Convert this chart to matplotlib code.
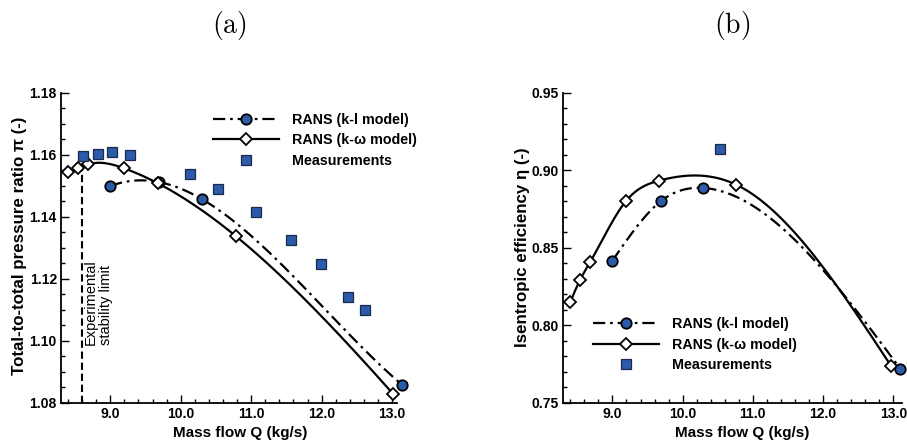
import numpy as np
import matplotlib
matplotlib.use("Agg")
import matplotlib.pyplot as plt
from matplotlib.ticker import MultipleLocator, FormatStrFormatter

plt.rcParams["font.family"] = ["Liberation Sans", "DejaVu Sans"]
plt.rcParams["font.weight"] = "bold"

# ---- (a) total-to-total pressure ratio ----
q_kl_a = [9.0, 9.69, 10.30, 13.14]
pr_kl = [1.1499, 1.1512, 1.1457, 1.0859]

q_kw_a = [8.405, 8.538, 8.681, 9.20, 9.676, 10.786, 13.02]
pr_kw = [1.1546, 1.1556, 1.1569, 1.1556, 1.1508, 1.1337, 1.0828]

q_meas_a = [8.615, 8.824, 9.02, 9.28, 10.133, 10.535, 11.062, 11.562, 11.99, 12.381, 12.619]
pr_meas = [1.1597, 1.1603, 1.1608, 1.1600, 1.1538, 1.1490, 1.1415, 1.1325, 1.1248, 1.1143, 1.1099]

q_stability = 8.6

# ---- (b) isentropic efficiency ----
q_kl_b = [9.0, 9.687, 10.294, 13.10]
eta_kl = [0.8418, 0.8800, 0.8886, 0.7721]

q_kw_b = [8.398, 8.54, 8.682, 9.19, 9.663, 10.758, 12.97]
eta_kw = [0.8150, 0.8294, 0.8408, 0.8800, 0.8933, 0.8908, 0.7738]

q_meas_b = [10.526]
eta_meas = [0.9137]

x_ticks = [9.0, 10.0, 11.0, 12.0, 13.0]
labels = ["RANS (k-l model)", "RANS (k-\u03c9 model)", "Measurements"]


def spline(x, y, ends="natural", n=300):
    """Cubic spline through the points ('natural' or 'not-a-knot' ends)."""
    x = np.asarray(x, float)
    y = np.asarray(y, float)
    m = len(x)
    h = np.diff(x)
    A = np.zeros((m, m))
    r = np.zeros(m)
    if ends == "natural":
        A[0, 0] = A[-1, -1] = 1.0
    else:
        A[0, 0], A[0, 1], A[0, 2] = -h[1], h[0] + h[1], -h[0]
        A[-1, -3], A[-1, -2], A[-1, -1] = -h[-1], h[-1] + h[-2], -h[-2]
    for i in range(1, m - 1):
        A[i, i - 1] = h[i - 1]
        A[i, i] = 2 * (h[i - 1] + h[i])
        A[i, i + 1] = h[i]
        r[i] = 3 * ((y[i + 1] - y[i]) / h[i] - (y[i] - y[i - 1]) / h[i - 1])
    c = np.linalg.solve(A, r)
    b = (y[1:] - y[:-1]) / h - h * (2 * c[:-1] + c[1:]) / 3
    d = (c[1:] - c[:-1]) / (3 * h)
    xs = np.linspace(x[0], x[-1], n)
    idx = np.clip(np.searchsorted(x, xs, side="right") - 1, 0, m - 2)
    t = xs - x[idx]
    ys = y[idx] + b[idx] * t + c[idx] * t ** 2 + d[idx] * t ** 3
    return xs, ys


BLUE = "#2C5BAA"
DASHDOT = (0, (5.5, 2.2, 1.2, 2.2))
LW = 1.6


def draw(ax, qkl, ykl, qkw, ykw, qm, ym, kl_on_top, ends):
    zk = 4 if kl_on_top else 3
    zw = 3 if kl_on_top else 4
    xs, ys = spline(qkl, ykl, ends)
    ax.plot(xs, ys, color="black", lw=LW, ls=DASHDOT, zorder=zk, clip_on=False)
    ax.plot(qkl, ykl, ls="none", marker="o", ms=7.5, mfc=BLUE, mec="black",
            mew=1.3, zorder=zk, clip_on=False)
    xs, ys = spline(qkw, ykw, ends)
    ax.plot(xs, ys, color="black", lw=LW, ls="-", zorder=zw, clip_on=False)
    ax.plot(qkw, ykw, ls="none", marker="D", ms=6.5, mfc="white", mec="black",
            mew=1.3, zorder=zw, clip_on=False)
    ax.plot(qm, ym, ls="none", marker="s", ms=7, mfc=BLUE, mec="#1a2a4a",
            mew=0.9, zorder=5, clip_on=False)

    h_kl = plt.Line2D([], [], color="black", lw=LW, ls=DASHDOT, marker="o",
                      ms=7.5, mfc=BLUE, mec="black", mew=1.3)
    h_kw = plt.Line2D([], [], color="black", lw=LW, ls="-", marker="D",
                      ms=6.5, mfc="white", mec="black", mew=1.3)
    h_m = plt.Line2D([], [], ls="none", marker="s", ms=7, mfc=BLUE,
                     mec="#1a2a4a", mew=0.9)
    return [h_kl, h_kw, h_m]


def style(ax, xlim, ylim, ymajor, yminor, yfmt):
    ax.set_xlim(*xlim)
    ax.set_ylim(*ylim)
    for s in ("top", "right"):
        ax.spines[s].set_visible(False)
    for s in ("left", "bottom"):
        ax.spines[s].set_linewidth(1.3)
    ax.set_xticks(x_ticks)
    ax.xaxis.set_major_formatter(FormatStrFormatter("%.1f"))
    ax.xaxis.set_minor_locator(MultipleLocator(0.2))
    ax.yaxis.set_major_locator(MultipleLocator(ymajor))
    ax.yaxis.set_minor_locator(MultipleLocator(yminor))
    ax.yaxis.set_major_formatter(FormatStrFormatter(yfmt))
    ax.tick_params(which="both", direction="in", width=1.0, labelsize=10)
    ax.tick_params(which="major", length=5.5)
    ax.tick_params(which="minor", length=3)
    ax.tick_params(axis="x", pad=3)
    ax.tick_params(axis="y", pad=3)
    for lab in ax.get_xticklabels() + ax.get_yticklabels():
        lab.set_fontweight("bold")


fig = plt.figure(figsize=(9.07, 4.41), dpi=100)
W, H = 907.0, 441.0
ax1 = fig.add_axes([61 / W, 38 / H, 336 / W, 310.3 / H])
ax2 = fig.add_axes([563.3 / W, 38 / H, 338.4 / W, 310.3 / H])

LEG = dict(loc="upper left", frameon=False, handlelength=4.6,
           handletextpad=0.9, labelspacing=0.45, borderpad=0, borderaxespad=0,
           prop={"weight": "bold", "size": 10.3})

# panel (a)
handles = draw(ax1, q_kl_a, pr_kl, q_kw_a, pr_kw, q_meas_a, pr_meas,
               kl_on_top=False, ends="not-a-knot")
style(ax1, (8.3, 13.07), (1.08, 1.18), 0.02, 0.005, "%.2f")
ax1.plot([q_stability, q_stability], [1.08, 1.1572], color="black", lw=1.5,
         ls=(0, (3.5, 1.8)), zorder=2)
ax1.text(8.617, 1.0986, "Experimental\nstability limit", rotation=90,
         ha="left", va="bottom", multialignment="left", fontsize=10.5,
         fontweight="normal", linespacing=1.15)
ax1.set_xlabel("Mass flow Q (kg/s)", fontsize=11, fontweight="bold")
ax1.set_ylabel("Total-to-total pressure ratio \u03c0 (-)", fontsize=12.2,
               fontweight="bold")
ax1.xaxis.set_label_coords((240 - 61) / 336, -0.075)
ax1.yaxis.set_label_coords(-0.101, 0.508)
ax1.legend(handles, labels, bbox_to_anchor=(0.452, 0.935), **LEG)
ax1.text(0.5, 1.218, r"$\mathrm{(a)}$", transform=ax1.transAxes,
         ha="center", va="center", fontsize=20, math_fontfamily="cm")

# panel (b)
handles = draw(ax2, q_kl_b, eta_kl, q_kw_b, eta_kw, q_meas_b, eta_meas,
               kl_on_top=True, ends="natural")
style(ax2, (8.3, 13.12), (0.75, 0.95), 0.05, 0.01, "%.2f")
ax2.set_xlabel("Mass flow Q (kg/s)", fontsize=11, fontweight="bold")
ax2.set_ylabel("Isentropic efficiency \u03b7 (-)", fontsize=12.2,
               fontweight="bold")
ax2.xaxis.set_label_coords((741.7 - 563.3) / 338.4, -0.075)
ax2.yaxis.set_label_coords(-0.098, 0.503)
ax2.legend(handles, labels, bbox_to_anchor=(0.088, 0.276), **LEG)
ax2.text(0.5, 1.218, r"$\mathrm{(b)}$", transform=ax2.transAxes,
         ha="center", va="center", fontsize=20, math_fontfamily="cm")

fig.savefig("out.png", dpi=100)
